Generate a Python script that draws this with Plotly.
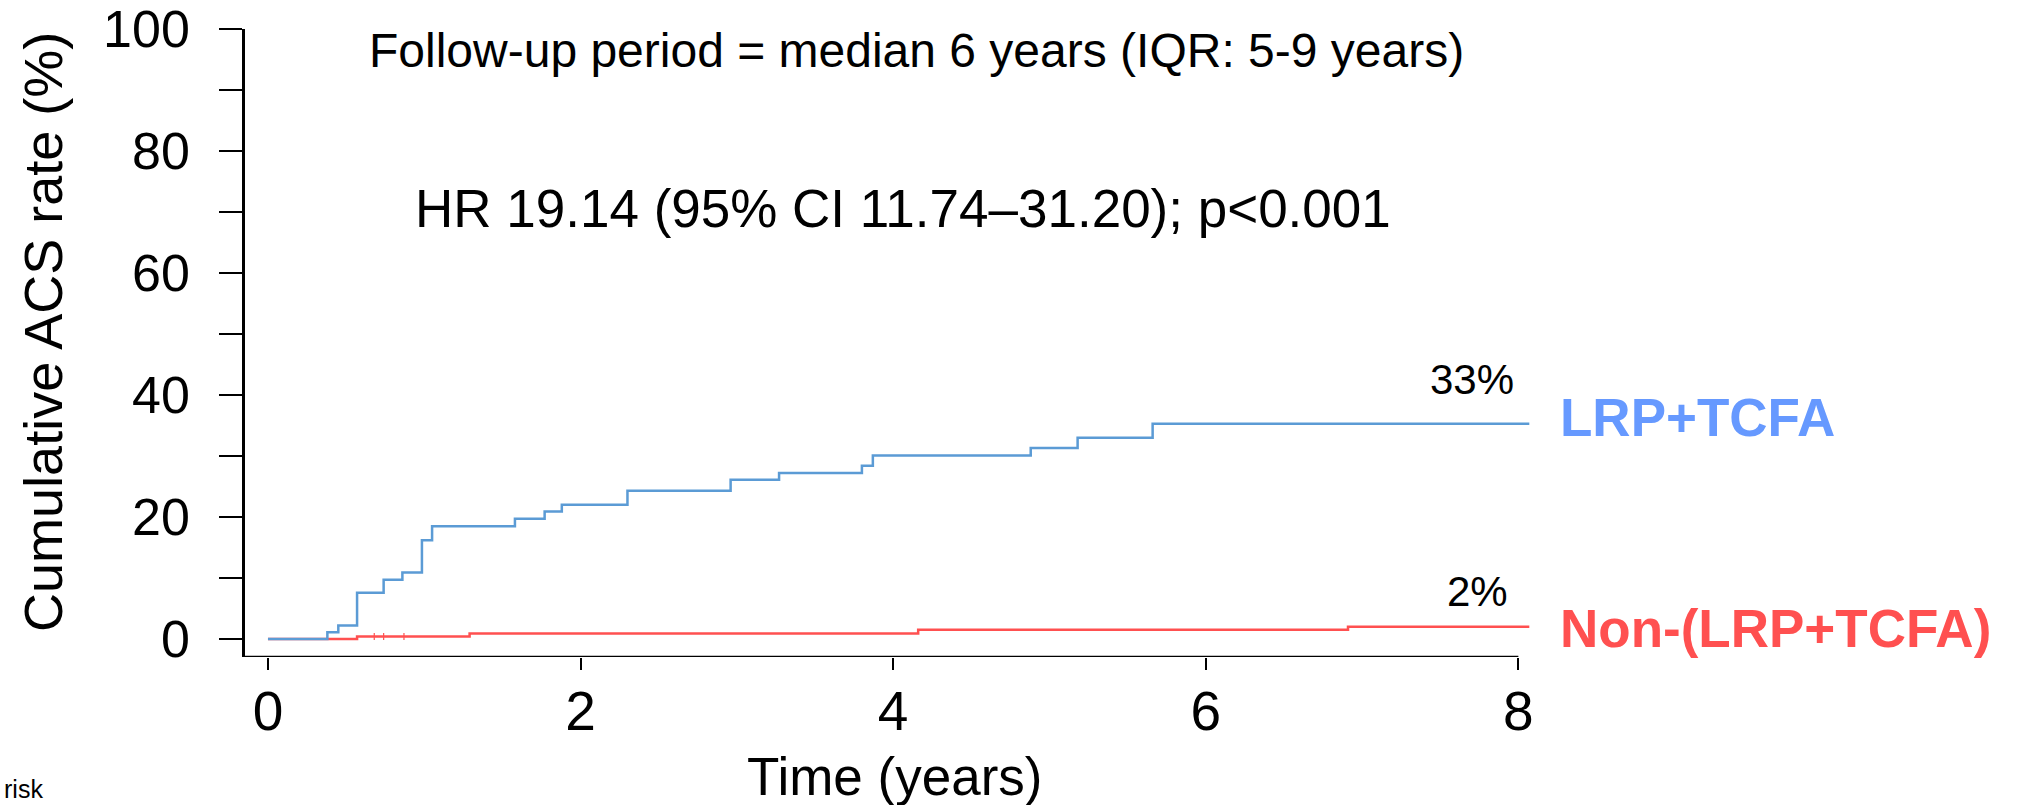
import plotly.graph_objects as go

# ---- data ----
blue_t = [0, 0.38, 0.45, 0.57, 0.74, 0.86, 0.985, 1.05, 1.58, 1.77, 1.88, 2.30, 2.96, 3.27, 3.80, 3.87, 4.88, 5.18, 5.66, 8.07]
blue_v = [0, 1.1, 2.2, 7.6, 9.7, 10.9, 16.2, 18.5, 19.7, 20.9, 22.0, 24.3, 26.1, 27.2, 28.4, 30.1, 31.3, 33.0, 35.3, 35.3]

red_t = [0, 0.57, 1.29, 4.16, 6.91, 8.07]
red_v = [0, 0.4, 0.9, 1.5, 2.0, 2.0]

red_censor_t = [0.68, 0.74, 0.87]
red_censor_v = [0.4, 0.4, 0.4]

x_ticks = [0, 2, 4, 6, 8]
y_ticks = [0, 10, 20, 30, 40, 50, 60, 70, 80, 90, 100]
y_ticktext = ["0", "", "20", "", "40", "", "60", "", "80", "", "100"]

group_names = ["LRP+TCFA", "Non-(LRP+TCFA)"]
final_labels = ["33%", "2%"]

FONT = "Liberation Sans, Arial, sans-serif"
BLUE_LINE = "#5B9BD5"
RED_LINE = "#FF5050"
BLUE_TXT = "#6699FF"
RED_TXT = "#FF5050"

# ---- geometry ----
W, H = 2023, 805
X_RANGE = [-0.147, 8.1]
Y_RANGE = [-2.95, 100]
L, T, B = 245, 29, 148
PW = (X_RANGE[1] - X_RANGE[0]) * 156.25
PH = H - T - B
R = W - L - PW


def px(xp):
    return (xp - L) / PW


def py(yp):
    return (H - B - yp) / PH


fig = go.Figure()

fig.add_trace(go.Scatter(x=red_t, y=red_v, mode="lines", line=dict(color=RED_LINE, width=2.5, shape="hv"),
                         name=group_names[1], showlegend=False, hoverinfo="skip"))
fig.add_trace(go.Scatter(x=red_censor_t, y=red_censor_v, mode="markers",
                         marker=dict(symbol="line-ns", size=5, line=dict(color=RED_LINE, width=1.2)),
                         showlegend=False, hoverinfo="skip"))
fig.add_trace(go.Scatter(x=blue_t, y=blue_v, mode="lines", line=dict(color=BLUE_LINE, width=2.5, shape="hv"),
                         name=group_names[0], showlegend=False, hoverinfo="skip"))

# x axis line (ends at last tick)
fig.add_shape(type="line", xref="x", yref="y", x0=X_RANGE[0], x1=x_ticks[-1], y0=Y_RANGE[0], y1=Y_RANGE[0],
              line=dict(color="black", width=2.5))

fig.update_xaxes(range=X_RANGE, tickvals=x_ticks, ticktext=[str(v) for v in x_ticks],
                 ticks="outside", ticklen=12, tickwidth=2, tickcolor="black",
                 showline=False, showgrid=False, zeroline=False, ticklabeloverflow="allow",
                 tickfont=dict(family=FONT, size=55, color="black"), ticklabelstandoff=-6)
fig.update_yaxes(range=Y_RANGE, tickvals=y_ticks, ticktext=y_ticktext,
                 ticks="outside", ticklen=23, tickwidth=2, tickcolor="black",
                 showline=True, linecolor="black", linewidth=2.5, showgrid=False, zeroline=False,
                 ticklabeloverflow="allow",
                 tickfont=dict(family=FONT, size=52, color="black"), ticklabelstandoff=19)

ann = []
ann.append(dict(text="Follow-up period = median 6 years (IQR: 5-9 years)", x=4.15, y=96.4, xref="x", yref="y",
                showarrow=False, xanchor="center", yanchor="middle", font=dict(family=FONT, size=48, color="black")))
ann.append(dict(text="HR 19.14 (95% CI 11.74\u201331.20); p<0.001", x=4.064, y=70.5, xref="x", yref="y",
                showarrow=False, xanchor="center", yanchor="middle", font=dict(family=FONT, size=53, color="black")))
ann.append(dict(text=final_labels[0], x=px(1516), y=py(379), xref="paper", yref="paper", showarrow=False,
                xanchor="right", yanchor="middle", font=dict(family=FONT, size=42, color="black")))
ann.append(dict(text=final_labels[1], x=px(1510), y=py(591), xref="paper", yref="paper", showarrow=False,
                xanchor="right", yanchor="middle", font=dict(family=FONT, size=42, color="black")))
ann.append(dict(text="<b>%s</b>" % group_names[0], x=px(1558), y=py(418), xref="paper", yref="paper", showarrow=False,
                xanchor="left", yanchor="middle", font=dict(family=FONT, size=53, color=BLUE_TXT)))
ann.append(dict(text="<b>%s</b>" % group_names[1], x=px(1558), y=py(628), xref="paper", yref="paper", showarrow=False,
                xanchor="left", yanchor="middle", font=dict(family=FONT, size=53, color=RED_TXT)))
# axis titles
ann.append(dict(text="Time (years)", x=px(894), y=py(776), xref="paper", yref="paper",
                showarrow=False, xanchor="center", yanchor="middle", font=dict(family=FONT, size=53, color="black")))
ann.append(dict(text="Cumulative ACS rate (%)", x=px(43), y=py(332), xref="paper", yref="paper",
                showarrow=False, textangle=-90, xanchor="center", yanchor="middle",
                font=dict(family=FONT, size=54, color="black")))
ann.append(dict(text="risk", x=px(2), y=py(789), xref="paper", yref="paper",
                showarrow=False, xanchor="left", yanchor="middle", font=dict(family=FONT, size=25, color="black")))

fig.update_layout(width=W, height=H, margin=dict(l=L, r=R, t=T, b=B, pad=0, autoexpand=False),
                  plot_bgcolor="white", paper_bgcolor="white", annotations=ann, showlegend=False)

fig.write_html("out.html", config={"displayModeBar": False},
               post_script="document.body.style.margin='0';document.body.style.overflow='hidden';")
